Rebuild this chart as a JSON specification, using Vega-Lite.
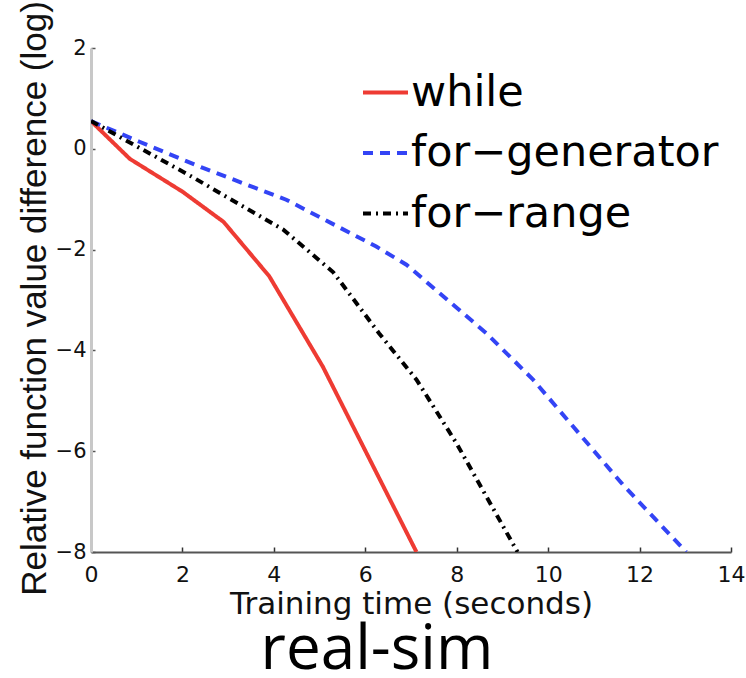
{
  "$schema": "https://vega.github.io/schema/vega-lite/v6.json",
  "width": 640,
  "height": 504,
  "autosize": {"type": "none"},
  "padding": {"left": 91, "top": 48, "right": 15, "bottom": 126},
  "background": "white",
  "config": {
    "view": {"stroke": null},
    "legend": {
      "orient": "none",
      "legendX": 270,
      "legendY": 20,
      "padding": 0,
      "symbolType": "stroke",
      "symbolSize": 2025,
      "symbolStrokeWidth": 4,
      "labelFont": "DejaVu Sans",
      "labelFontSize": 43,
      "labelColor": "#000000",
      "labelOffset": 1,
      "rowPadding": 13.5,
      "labelLimit": 500
    }
  },
  "title": {
    "text": "real-sim",
    "orient": "bottom",
    "anchor": "middle",
    "frame": "group",
    "dx": -34,
    "font": "Open Sans",
    "fontSize": 62,
    "fontWeight": "normal",
    "color": "#000000",
    "baseline": "alphabetic",
    "offset": 50
  },
  "data": {
    "values": [
      {"method": "while", "t": 0, "v": 0.55},
      {"method": "while", "t": 0.85, "v": -0.2},
      {"method": "while", "t": 2, "v": -0.85},
      {"method": "while", "t": 2.9, "v": -1.45},
      {"method": "while", "t": 3.9, "v": -2.53},
      {"method": "while", "t": 5.07, "v": -4.32},
      {"method": "while", "t": 7.12, "v": -8},
      {"method": "for−generator", "t": 0, "v": 0.55},
      {"method": "for−generator", "t": 1.06, "v": 0.14},
      {"method": "for−generator", "t": 2.45, "v": -0.38},
      {"method": "for−generator", "t": 4.27, "v": -1.01},
      {"method": "for−generator", "t": 6.24, "v": -1.94},
      {"method": "for−generator", "t": 6.9, "v": -2.3},
      {"method": "for−generator", "t": 8.65, "v": -3.66},
      {"method": "for−generator", "t": 9.67, "v": -4.58},
      {"method": "for−generator", "t": 11.64, "v": -6.67},
      {"method": "for−generator", "t": 13.02, "v": -8},
      {"method": "for−range", "t": 0, "v": 0.55},
      {"method": "for−range", "t": 1, "v": 0.05},
      {"method": "for−range", "t": 2.2, "v": -0.55},
      {"method": "for−range", "t": 3.7, "v": -1.34},
      {"method": "for−range", "t": 4.2, "v": -1.6},
      {"method": "for−range", "t": 5.3, "v": -2.45},
      {"method": "for−range", "t": 6.3, "v": -3.66},
      {"method": "for−range", "t": 7.12, "v": -4.58},
      {"method": "for−range", "t": 8, "v": -5.85},
      {"method": "for−range", "t": 9.33, "v": -8}
    ]
  },
  "mark": {"type": "line", "strokeWidth": 4, "clip": true},
  "encoding": {
    "x": {
      "field": "t",
      "type": "quantitative",
      "scale": {"domain": [0, 14], "nice": false, "zero": false},
      "axis": {
        "values": [0, 2, 4, 6, 8, 10, 12, 14],
        "format": "d",
        "title": "Training time (seconds)",
        "grid": false,
        "labelFlush": false,
        "domainColor": "#555555",
        "domainWidth": 2,
        "tickColor": "#333333",
        "tickSize": -5,
        "tickWidth": 1.5,
        "labelFont": "DejaVu Sans",
        "labelFontSize": 22,
        "labelColor": "#111111",
        "labelPadding": 17,
        "titleFont": "DejaVu Sans",
        "titleFontSize": 31,
        "titleFontWeight": "normal",
        "titleColor": "#111111",
        "titleBaseline": "alphabetic",
        "titleY": 61
      }
    },
    "y": {
      "field": "v",
      "type": "quantitative",
      "scale": {"domain": [-8, 2], "nice": false, "zero": false},
      "axis": {
        "values": [-8, -6, -4, -2, 0, 2],
        "format": "d",
        "title": "Relative function value difference (log)",
        "grid": false,
        "domainColor": "#c8c8c8",
        "domainWidth": 3,
        "tickColor": "#555555",
        "tickSize": -4,
        "tickWidth": 1.5,
        "labelFont": "DejaVu Sans",
        "labelFontSize": 21,
        "labelColor": "#111111",
        "labelPadding": 9,
        "titleFont": "Liberation Sans",
        "titleFontSize": 35,
        "titleFontWeight": "normal",
        "titleColor": "#111111",
        "titleBaseline": "alphabetic",
        "titleAngle": -90,
        "titleX": -46,
        "titleY": 250
      }
    },
    "color": {
      "field": "method",
      "type": "nominal",
      "scale": {
        "domain": ["while", "for−generator", "for−range"],
        "range": ["#ee3b33", "#3344f5", "#000000"]
      },
      "legend": {"title": null}
    },
    "strokeDash": {
      "field": "method",
      "type": "nominal",
      "scale": {
        "domain": ["while", "for−generator", "for−range"],
        "range": [[1, 0], [10, 7], [8, 5, 2, 5]]
      },
      "legend": {"title": null}
    }
  }
}
